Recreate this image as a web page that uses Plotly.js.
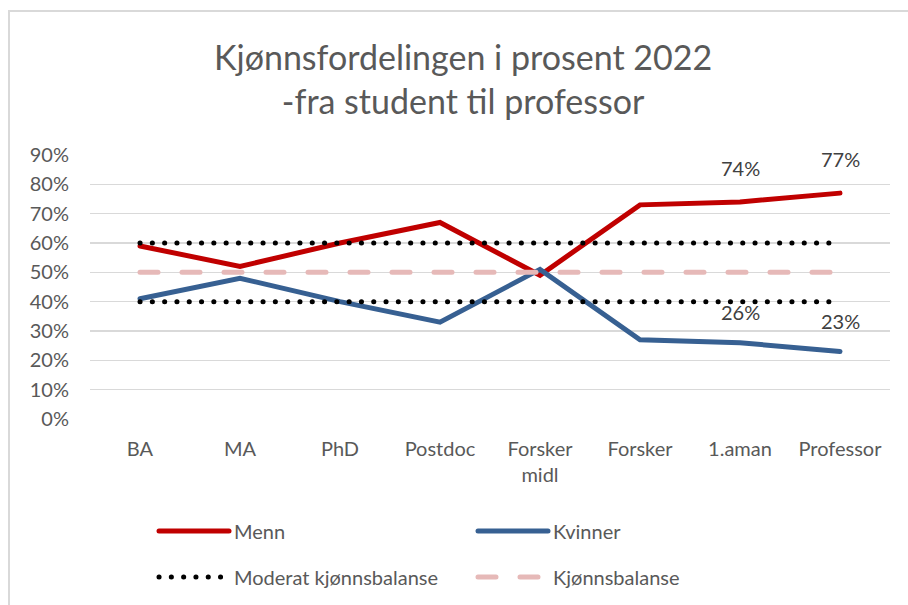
<!DOCTYPE html>
<html>
<head>
<meta charset="utf-8">
<script src="https://cdn.plot.ly/plotly-3.0.1.min.js"></script>
<style>
  html, body { margin: 0; padding: 0; overflow: hidden; background: #fff; }
  #chart { position: absolute; left: 0; top: 0; width: 908px; height: 605px; }
  #frame { position: absolute; left: 8px; top: 10px; width: 1000px; height: 1000px;
           border-left: 2px solid #D9D9D9; border-top: 2px solid #D9D9D9; pointer-events: none; }
  .js-line { stroke-linecap: round !important; }
</style>
</head>
<body>
<div id="chart"></div>
<div id="frame"></div>
<script>
const categories = ["BA", "MA", "PhD", "Postdoc", "Forsker<br>midl", "Forsker", "1.aman", "Professor"];
const menn = [0.59, 0.52, 0.60, 0.67, 0.49, 0.73, 0.74, 0.77];
const kvinner = [0.41, 0.48, 0.40, 0.33, 0.51, 0.27, 0.26, 0.23];
const moderatHigh = [0.60, 0.60, 0.60, 0.60, 0.60, 0.60, 0.60, 0.60];
const moderatLow = [0.40, 0.40, 0.40, 0.40, 0.40, 0.40, 0.40, 0.40];
const balanse = [0.50, 0.50, 0.50, 0.50, 0.50, 0.50, 0.50, 0.50];
const labelledCategories = ["1.aman", "Professor"];
const yTickVals = [0, 0.1, 0.2, 0.3, 0.4, 0.5, 0.6, 0.7, 0.8, 0.9];
const yTickText = ["0%", "10%", "20%", "30%", "40%", "50%", "60%", "70%", "80%", "90%"];

const FONT = "Lato, 'Open Sans', sans-serif";
const RED = "#C00000", BLUE = "#376092", PINK = "#E6B9B8";

const traces = [
  { x: categories, y: menn, name: "Menn", mode: "lines", type: "scatter",
    line: { color: RED, width: 5 }, legend: "legend" },
  { x: categories, y: kvinner, name: "Kvinner", mode: "lines", type: "scatter",
    line: { color: BLUE, width: 5 }, legend: "legend" },
  { x: categories, y: moderatHigh, name: "Moderat kjønnsbalanse", mode: "lines", type: "scatter",
    line: { color: "#000000", width: 5, dash: "0.1px,12.2px" }, legend: "legend2", legendgroup: "mod" },
  { x: categories, y: moderatLow, name: "Moderat kjønnsbalanse", mode: "lines", type: "scatter",
    line: { color: "#000000", width: 5, dash: "0.1px,12.2px" }, legend: "legend2", legendgroup: "mod", showlegend: false },
  { x: categories, y: balanse, name: "Kjønnsbalanse", mode: "lines", type: "scatter",
    line: { color: PINK, width: 5, dash: "18px,24px" }, legend: "legend2" }
];

const annotations = [];
labelledCategories.forEach(c => {
  const i = categories.indexOf(c);
  annotations.push({ x: categories[i], y: menn[i], xref: "x", yref: "y",
    text: Math.round(menn[i] * 100) + "%", showarrow: false, yshift: 34,
    font: { family: FONT, size: 20, color: "#404040" } });
  annotations.push({ x: categories[i], y: kvinner[i], xref: "x", yref: "y",
    text: Math.round(kvinner[i] * 100) + "%", showarrow: false, yshift: 31,
    font: { family: FONT, size: 20, color: "#404040" } });
});

const layout = {
  width: 908, height: 605,
  margin: { l: 90, r: 18, t: 155, b: 186, autoexpand: false },
  paper_bgcolor: "rgba(0,0,0,0)", plot_bgcolor: "rgba(0,0,0,0)",
  font: { family: FONT, size: 20, color: "#595959" },
  title: { text: "Kjønnsfordelingen i prosent 2022<br>-fra student til professor",
    font: { family: FONT, size: 34, color: "#595959" },
    x: 0.51, xref: "container", xanchor: "center",
    y: 0.885, yref: "container", yanchor: "top" },
  xaxis: { type: "category", showgrid: false, zeroline: false, showline: false,
    ticks: "", ticklabelstandoff: 16, tickfont: { family: FONT, size: 20, color: "#595959" },
    range: [-0.5, 7.5] },
  yaxis: { range: [0, 0.9], tickvals: yTickVals, ticktext: yTickText,
    showgrid: true, gridcolor: "#D9D9D9", gridwidth: 1.5, zeroline: false, showline: false,
    ticks: "", ticklabelstandoff: 20, tickfont: { family: FONT, size: 20, color: "#595959" } },
  showlegend: true,
  legend: { orientation: "h", x: 0.08, xanchor: "left", y: 0.1223, yref: "container", yanchor: "middle",
    entrywidth: 234, entrywidthmode: "pixels", itemwidth: 70,
    font: { family: FONT, size: 20, color: "#595959" }, bgcolor: "rgba(0,0,0,0)" },
  legend2: { orientation: "h", x: 0.08, xanchor: "left", y: 0.0463, yref: "container", yanchor: "middle",
    entrywidth: 234, entrywidthmode: "pixels", itemwidth: 70,
    font: { family: FONT, size: 20, color: "#595959" }, bgcolor: "rgba(0,0,0,0)" },
  annotations: annotations
};

Plotly.newPlot("chart", traces, layout, { displayModeBar: false, staticPlot: true });
</script>
</body>
</html>
